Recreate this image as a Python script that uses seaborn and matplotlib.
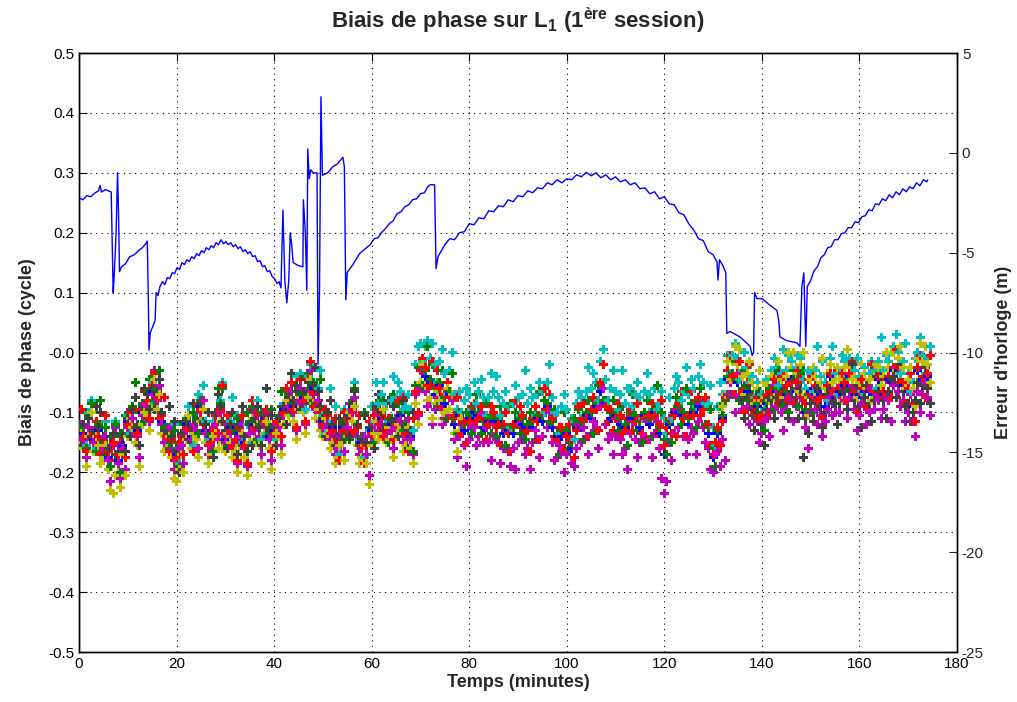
import numpy as np
import pandas as pd
import matplotlib
matplotlib.use('Agg')
import matplotlib.pyplot as plt
from matplotlib.ticker import FormatStrFormatter
import seaborn as sns

# phase bias per satellite (cycle): one value per minute, plus the half-minute samples (_h)
red = [
    -0.125, -0.14, -0.11, -0.135, -0.14, -0.145, -0.165, -0.15, -0.17, -0.14,
    -0.12, -0.095, -0.135, -0.09, -0.08, -0.055, -0.075, -0.105, -0.14, -0.145,
    -0.175, -0.14, -0.125, -0.13, -0.115, -0.095, -0.12, -0.15, -0.105, -0.095,
    -0.135, -0.13, -0.145, -0.125, -0.155, -0.12, -0.125, -0.125, -0.115, -0.13,
    -0.135, -0.11, -0.1, -0.075, -0.095, -0.065, -0.08, -0.045, -0.065, -0.065,
    -0.12, -0.105, -0.13, -0.145, -0.13, -0.11, -0.095, -0.125, -0.155, -0.155,
    -0.135, -0.095, -0.105, -0.13, -0.115, -0.12, -0.1, -0.135, -0.13, -0.065,
    -0.03, -0.025, -0.055, -0.055, -0.06, -0.07, -0.075, -0.105, -0.11, -0.115,
    -0.115, -0.085, -0.11, -0.11, -0.12, -0.1, -0.12, -0.12, -0.135, -0.12,
    -0.12, -0.105, -0.13, -0.11, -0.115, -0.1, -0.095, -0.11, -0.145, -0.125,
    -0.14, -0.145, -0.13, -0.11, -0.11, -0.095, -0.095, -0.05, -0.09, -0.095,
    -0.11, -0.105, -0.13, -0.095, -0.115, -0.11, -0.11, -0.105, -0.105, -0.12,
    -0.155, -0.11, -0.105, -0.085, -0.11, -0.105, -0.105, -0.075, -0.095, -0.12,
    -0.17, -0.125, -0.115, -0.03, -0.04, -0.035, -0.065, -0.05, -0.075, -0.075,
    -0.105, -0.07, -0.065, -0.05, -0.07, -0.055, -0.05, -0.05, -0.045, -0.085,
    -0.07, -0.055, -0.075, -0.075, -0.035, -0.07, -0.06, -0.05, -0.035, -0.065,
    -0.065, -0.06, -0.06, -0.065, -0.04, -0.065, -0.04, -0.025, -0.025, -0.05,
    -0.06, -0.085, -0.025, -0.04, -0.035]
red_h = [
    -0.095, -0.165, -0.145, -0.115, -0.17, -0.105, -0.14, -0.18, -0.15, -0.175,
    -0.1, -0.125, -0.095, -0.065, -0.11, -0.035, -0.11, -0.075, -0.165, -0.18,
    -0.15, -0.17, -0.105, -0.165, -0.085, -0.12, -0.155, -0.13, -0.135, -0.055,
    -0.105, -0.155, -0.18, -0.105, -0.185, -0.08, -0.1, -0.155, -0.095, -0.165,
    -0.115, -0.14, -0.06, -0.05, -0.125, -0.045, -0.115, -0.015, -0.09, -0.1,
    -0.095, -0.135, -0.11, -0.18, -0.1, -0.135, -0.13, -0.105, -0.185, -0.115,
    -0.105, -0.12, -0.14, -0.11, -0.145, -0.08, -0.075, -0.165, -0.11, -0.1,
    -0.01, -0.055, -0.015, -0.03, -0.09, -0.05, -0.11, -0.075, -0.135, -0.15,
    -0.09, -0.115, -0.09, -0.145, -0.09, -0.125, -0.155, -0.1, -0.165, -0.08,
    -0.09, -0.13, -0.165, -0.09, -0.145, -0.06, -0.07, -0.14, -0.125, -0.16,
    -0.12, -0.175, -0.09, -0.085, -0.14, -0.075, -0.13, -0.02, -0.115, -0.13,
    -0.085, -0.135, -0.11, -0.13, -0.085, -0.135, -0.145, -0.085, -0.135, -0.08,
    -0.125, -0.135, -0.14, -0.065, -0.14, -0.065, -0.08, -0.105, -0.075, -0.155,
    -0.15, -0.155, -0.075, -0.005, -0.07, -0.015, -0.1, -0.02, -0.1, -0.11,
    -0.08, -0.1, -0.045, -0.085, -0.04, -0.08, -0.085, -0.03, -0.075, -0.045,
    -0.04, -0.08, -0.11, -0.055, -0.065, -0.03, -0.035, -0.08, -0.015, -0.1,
    -0.045, -0.09, -0.02, -0.04, -0.07, -0.045, -0.075, 0.005, -0.05, -0.085,
    -0.035, -0.115, -0.005, -0.075, -0.005]
blue = [
    -0.135, -0.135, -0.125, -0.145, -0.13, -0.16, -0.175, -0.14, -0.18, -0.155,
    -0.115, -0.11, -0.13, -0.1, -0.085, -0.065, -0.07, -0.115, -0.13, -0.16,
    -0.17, -0.155, -0.12, -0.14, -0.13, -0.09, -0.13, -0.14, -0.12, -0.095,
    -0.145, -0.125, -0.15, -0.135, -0.15, -0.135, -0.12, -0.14, -0.11, -0.14,
    -0.13, -0.125, -0.095, -0.09, -0.09, -0.08, -0.075, -0.06, -0.06, -0.08,
    -0.115, -0.12, -0.125, -0.16, -0.125, -0.125, -0.09, -0.14, -0.15, -0.17,
    -0.13, -0.1, -0.11, -0.135, -0.12, -0.125, -0.105, -0.14, -0.14, -0.065,
    -0.03, -0.04, -0.05, -0.07, -0.055, -0.085, -0.07, -0.12, -0.105, -0.13,
    -0.11, -0.1, -0.105, -0.125, -0.115, -0.115, -0.115, -0.135, -0.13, -0.135,
    -0.115, -0.12, -0.125, -0.125, -0.11, -0.115, -0.09, -0.125, -0.14, -0.14,
    -0.135, -0.16, -0.125, -0.125, -0.105, -0.11, -0.09, -0.065, -0.085, -0.11,
    -0.105, -0.12, -0.125, -0.11, -0.11, -0.125, -0.105, -0.12, -0.1, -0.135,
    -0.17, -0.12, -0.1, -0.1, -0.105, -0.12, -0.1, -0.09, -0.09, -0.135,
    -0.175, -0.135, -0.11, -0.045, -0.035, -0.05, -0.06, -0.065, -0.07, -0.09,
    -0.1, -0.085, -0.06, -0.065, -0.065, -0.07, -0.045, -0.065, -0.04, -0.1,
    -0.065, -0.07, -0.07, -0.09, -0.04, -0.075, -0.065, -0.055, -0.04, -0.07,
    -0.07, -0.065, -0.065, -0.07, -0.045, -0.07, -0.045, -0.03, -0.03, -0.055,
    -0.065, -0.09, -0.03, -0.045, -0.04]
green = [
    -0.12, -0.125, -0.105, -0.135, -0.12, -0.15, -0.16, -0.14, -0.165, -0.135,
    -0.11, -0.09, -0.125, -0.085, -0.065, -0.045, -0.06, -0.1, -0.125, -0.15,
    -0.16, -0.14, -0.11, -0.13, -0.11, -0.08, -0.12, -0.135, -0.1, -0.085,
    -0.13, -0.12, -0.13, -0.125, -0.14, -0.115, -0.115, -0.12, -0.105, -0.125,
    -0.125, -0.105, -0.09, -0.07, -0.085, -0.06, -0.07, -0.035, -0.05, -0.065,
    -0.11, -0.1, -0.12, -0.14, -0.115, -0.11, -0.08, -0.125, -0.14, -0.15,
    -0.125, -0.085, -0.1, -0.12, -0.11, -0.11, -0.1, -0.12, -0.13, -0.055,
    -0.025, -0.03, -0.045, -0.06, -0.05, -0.075, -0.065, -0.11, -0.1, -0.12,
    -0.105, -0.09, -0.1, -0.115, -0.11, -0.105, -0.11, -0.125, -0.125, -0.125,
    -0.11, -0.11, -0.12, -0.115, -0.105, -0.105, -0.085, -0.115, -0.135, -0.13,
    -0.13, -0.15, -0.12, -0.115, -0.1, -0.1, -0.085, -0.055, -0.08, -0.1,
    -0.1, -0.11, -0.12, -0.1, -0.105, -0.115, -0.1, -0.11, -0.095, -0.125,
    -0.145, -0.115, -0.095, -0.09, -0.1, -0.11, -0.095, -0.08, -0.085, -0.125,
    -0.16, -0.13, -0.105, -0.04, -0.035, -0.045, -0.06, -0.055, -0.07, -0.085,
    -0.1, -0.08, -0.06, -0.06, -0.065, -0.065, -0.05, -0.06, -0.04, -0.095, -0.07]
green_h = [
    -0.145, -0.16, -0.085, -0.165, -0.08, -0.125, -0.19, -0.12, -0.2, -0.105,
    -0.14, -0.05, -0.1, -0.115, -0.045, -0.08, -0.03, -0.125, -0.16, -0.13,
    -0.19, -0.12, -0.145, -0.1, -0.135, -0.115, -0.1, -0.165, -0.06, -0.06,
    -0.155, -0.155, -0.11, -0.155, -0.1, -0.09, -0.145, -0.1, -0.14, -0.095,
    -0.155, -0.065, -0.065, -0.1, -0.065, -0.095, -0.04, -0.06, -0.085, -0.045,
    -0.14, -0.08, -0.155, -0.11, -0.14, -0.145, -0.06, -0.155, -0.1, -0.125,
    -0.15, -0.12, -0.08, -0.15, -0.07, -0.085, -0.13, -0.1, -0.165, -0.025,
    -0.055, 0.01, -0.02, -0.09, -0.03, -0.11, -0.035, -0.135, -0.135, -0.1,
    -0.135, -0.07, -0.135, -0.085, -0.135, -0.14, -0.09, -0.155, -0.085, -0.1,
    -0.135, -0.145, -0.1, -0.145, -0.065, -0.08, -0.115, -0.095, -0.17, -0.1,
    -0.16, -0.11, -0.095, -0.145, -0.08, -0.135, -0.055, -0.08, -0.115, -0.08,
    -0.13, -0.09, -0.155, -0.07, -0.13, -0.15, -0.08, -0.14, -0.055, -0.1,
    -0.17, -0.15, -0.075, -0.12, -0.06, -0.085, -0.125, -0.06, -0.12, -0.095,
    -0.19, -0.09, -0.08, -0.07, -0.015, -0.08, -0.03, -0.08, -0.105, -0.065,
    -0.13, -0.06, -0.095, -0.03, -0.09, -0.1, -0.03, -0.09, -0.03, -0.07, -0.1]
gray_a = [
    -0.12, -0.12, -0.11, -0.13, -0.125, -0.14, -0.16, -0.135, -0.165, -0.14,
    -0.11, -0.095, -0.12, -0.09, -0.07, -0.06, -0.065, -0.1, -0.13, -0.14,
    -0.165, -0.135, -0.115, -0.125, -0.115, -0.085, -0.12, -0.14, -0.1, -0.09,
    -0.13, -0.12, -0.135, -0.12, -0.14, -0.12, -0.11, -0.125, -0.1, -0.13,
    -0.12, -0.11, -0.09, -0.075, -0.08, -0.065, -0.065, -0.05, -0.055, -0.065,
    -0.11, -0.1, -0.12, -0.14, -0.12, -0.105, -0.085, -0.12, -0.145, -0.15,
    -0.125, -0.09, -0.1, -0.12, -0.115, -0.11, -0.1, -0.125, -0.13]
gray_a_h = [
    -0.155, -0.1, -0.14, -0.09, -0.1, -0.17, -0.14, -0.17, -0.135, -0.165,
    -0.14, -0.075, -0.155, -0.06, -0.095, -0.095, -0.045, -0.13, -0.09, -0.115,
    -0.2, -0.115, -0.145, -0.085, -0.09, -0.115, -0.1, -0.175, -0.07, -0.115,
    -0.16, -0.1, -0.17, -0.09, -0.165, -0.155, -0.09, -0.155, -0.06, -0.105,
    -0.155, -0.09, -0.12, -0.035, -0.055, -0.095, -0.045, -0.085, -0.025, -0.09,
    -0.14, -0.08, -0.155, -0.11, -0.145, -0.14, -0.065, -0.15, -0.105, -0.125,
    -0.16, -0.07, -0.13, -0.08, -0.09, -0.14, -0.08, -0.16, -0.1]
gray_b = [
    -0.08, -0.075, -0.095, -0.1,
    -0.12, -0.095, -0.08, -0.075, -0.085, -0.08, -0.065, -0.075, -0.06, -0.11,
    -0.085, -0.08, -0.09, -0.1, -0.06, -0.085, -0.085, -0.065, -0.06, -0.08,
    -0.09, -0.075, -0.085, -0.08, -0.065, -0.08, -0.065, -0.04, -0.05, -0.065,
    -0.085, -0.1, -0.05, -0.055, -0.06]
gray_b_h = [
    -0.11, -0.055, -0.13, -0.07,
    -0.155, -0.075, -0.11, -0.035, -0.06, -0.11, -0.045, -0.11, -0.175, -0.135,
    -0.115, -0.06, -0.125, -0.07, -0.085, -0.12, -0.065, -0.095, -0.02, -0.055,
    -0.125, -0.055, -0.115, -0.04, -0.04, -0.11, -0.045, -0.075, -0.02, -0.09,
    -0.115, -0.08, -0.085, -0.025, -0.085]
yellow_a = [
    -0.155, -0.16, -0.14, -0.165, -0.155, -0.175, -0.195, -0.235, -0.2, -0.17,
    -0.14, -0.125, -0.155, -0.12, -0.1, -0.085, -0.095, -0.135, -0.16, -0.175,
    -0.215, -0.17, -0.145, -0.16, -0.145, -0.115, -0.15, -0.17, -0.135, -0.115,
    -0.165, -0.15, -0.165, -0.155, -0.175, -0.15, -0.145, -0.155, -0.135, -0.16,
    -0.155, -0.14, -0.12, -0.105, -0.115, -0.095, -0.1, -0.075, -0.085, -0.095,
    -0.14, -0.135, -0.15, -0.175, -0.15, -0.14, -0.115, -0.155, -0.175, -0.185,
    -0.155, -0.115, -0.135, -0.15, -0.145, -0.14, -0.13, -0.155, -0.16, -0.085,
    -0.05, -0.055, -0.075, -0.085, -0.08, -0.1, -0.095, -0.135, -0.13]
yellow_a_h = [
    -0.135, -0.19, -0.1, -0.14, -0.185, -0.155, -0.23, -0.205, -0.225, -0.205,
    -0.11, -0.15, -0.19, -0.1, -0.13, -0.045, -0.07, -0.165, -0.14, -0.21,
    -0.195, -0.2, -0.105, -0.135, -0.175, -0.095, -0.185, -0.14, -0.16, -0.15,
    -0.135, -0.175, -0.2, -0.135, -0.205, -0.11, -0.12, -0.185, -0.115, -0.195,
    -0.135, -0.17, -0.08, -0.08, -0.145, -0.075, -0.135, -0.045, -0.11, -0.13,
    -0.11, -0.16, -0.185, -0.155, -0.18, -0.1, -0.09, -0.185, -0.155, -0.22,
    -0.135, -0.145, -0.095, -0.125, -0.175, -0.12, -0.165, -0.125, -0.185, -0.12,
    -0.02, -0.08, -0.11, -0.065, -0.11, -0.06, -0.07, -0.165, -0.11]
yellow_b = [
    -0.09, -0.015, -0.015, -0.02, -0.04, -0.035, -0.05, -0.06,
    -0.08, -0.055, -0.04, -0.035, -0.045, -0.04, -0.025, -0.035, -0.02, -0.07,
    -0.045, -0.04, -0.05, -0.06, -0.02, -0.045, -0.045, -0.025, -0.02, -0.04,
    -0.05, -0.035, -0.045, -0.04, -0.025, -0.04, -0.025, 0.0, -0.01, -0.025,
    -0.045, -0.06, -0.01, -0.015, -0.02]
yellow_b_h = [
    -0.07, -0.045, 0.01, 0.005, -0.07, -0.015, -0.085, -0.03,
    -0.05, -0.08, -0.075, -0.015, -0.075, 0.0, 0.0, -0.065, 0.0, -0.105,
    -0.025, -0.07, -0.01, -0.035, -0.05, -0.025, -0.08, 0.005, -0.045, -0.075,
    -0.02, -0.06, -0.08, -0.02, -0.055, 0.0, 0.0, -0.03, 0.01, -0.06,
    -0.025, -0.09, 0.015, 0.01, -0.05]
cyan = [
    -0.12, -0.12, -0.1, -0.13, -0.12, -0.14, -0.16, -0.135, -0.165, -0.135,
    -0.105, -0.09, -0.12, -0.085, -0.065, -0.05, -0.06, -0.1, -0.125, -0.14,
    -0.16, -0.135, -0.11, -0.125, -0.11, -0.08, -0.115, -0.135, -0.1, -0.08,
    -0.13, -0.115, -0.13, -0.12, -0.14, -0.115, -0.11, -0.12, -0.1, -0.125,
    -0.12, -0.105, -0.085, -0.07, -0.08, -0.06, -0.065, -0.04, -0.05, -0.06,
    -0.105, -0.1, -0.115, -0.14, -0.115, -0.105, -0.08, -0.12, -0.14, -0.15,
    -0.09, -0.05, -0.07, -0.085, -0.08, -0.075, -0.065, -0.09, -0.095, -0.02,
    0.015, 0.01, -0.01, -0.02, -0.015, -0.035, -0.03, -0.07, -0.065, -0.08,
    -0.07, -0.05, -0.065, -0.075, -0.075, -0.065, -0.075, -0.085, -0.09, -0.085,
    -0.075, -0.07, -0.085, -0.075, -0.07, -0.065, -0.05, -0.075, -0.1, -0.09,
    -0.095, -0.11, -0.085, -0.075, -0.065, -0.06, -0.05, -0.015, -0.045, -0.06,
    -0.065, -0.07, -0.085, -0.06, -0.07, -0.075, -0.065, -0.07, -0.06, -0.085,
    -0.11, -0.075, -0.06, -0.05, -0.065, -0.07, -0.06, -0.04, -0.05, -0.085,
    -0.125, -0.09, -0.07, -0.005, -0.005, -0.01, -0.03, -0.025, -0.04, -0.05,
    -0.07, -0.045, -0.03, -0.025, -0.035, -0.03, -0.015, -0.025, -0.01, -0.06,
    -0.035, -0.03, -0.04, -0.05, -0.01, -0.035, -0.035, -0.015, -0.01, -0.03,
    -0.04, -0.025, -0.035, -0.03, -0.015, -0.03, -0.015, 0.01, 0.0, -0.015,
    -0.035, -0.05, 0.0, -0.005, -0.01]
cyan_h = [
    -0.145, -0.155, -0.08, -0.16, -0.08, -0.115, -0.19, -0.115, -0.2, -0.105,
    -0.135, -0.05, -0.095, -0.115, -0.045, -0.085, -0.03, -0.125, -0.16, -0.12,
    -0.185, -0.17, -0.09, -0.155, -0.07, -0.055, -0.145, -0.115, -0.135, -0.05,
    -0.16, -0.075, -0.105, -0.15, -0.12, -0.15, -0.08, -0.145, -0.135, -0.105,
    -0.145, -0.14, -0.065, -0.1, -0.04, -0.035, -0.095, -0.02, -0.085, -0.03,
    -0.135, -0.06, -0.09, -0.17, -0.095, -0.14, -0.05, -0.145, -0.175, -0.13,
    -0.115, -0.085, -0.05, -0.115, -0.04, -0.05, -0.095, -0.07, -0.13, 0.01,
    -0.015, 0.02, 0.015, -0.05, 0.005, -0.07, 0.0, -0.095, -0.1, -0.06,
    -0.095, -0.085, -0.045, -0.105, -0.035, -0.04, -0.105, -0.065, -0.125, -0.055,
    -0.105, -0.03, -0.06, -0.105, -0.05, -0.1, -0.02, -0.1, -0.135, -0.07,
    -0.12, -0.145, -0.065, -0.105, -0.025, -0.035, -0.08, 0.005, -0.08, -0.03,
    -0.095, -0.03, -0.06, -0.09, -0.05, -0.11, -0.035, -0.095, -0.095, -0.065,
    -0.135, -0.11, -0.04, -0.08, -0.025, -0.045, -0.09, -0.02, -0.085, -0.055,
    -0.155, -0.05, -0.045, -0.035, 0.015, -0.045, 0.0, -0.05, -0.075, -0.03,
    -0.095, -0.08, -0.01, -0.055, 0.005, -0.005, -0.045, -0.005, -0.045, -0.03,
    -0.065, 0.01, -0.015, -0.08, 0.01, -0.07, -0.005, -0.04, -0.045, -0.01,
    -0.065, -0.06, -0.015, -0.06, 0.025, -0.005, -0.045, 0.03, -0.035, 0.015,
    -0.065, -0.01, 0.025, -0.035, 0.01]
magenta = [
    -0.14, -0.145, -0.125, -0.15, -0.14, -0.16, -0.18, -0.155, -0.185, -0.16,
    -0.125, -0.11, -0.14, -0.105, -0.085, -0.07, -0.08, -0.12, -0.145, -0.16,
    -0.18, -0.155, -0.13, -0.145, -0.13, -0.1, -0.135, -0.155, -0.12, -0.1,
    -0.15, -0.135, -0.15, -0.14, -0.16, -0.135, -0.13, -0.14, -0.12, -0.145,
    -0.14, -0.125, -0.105, -0.09, -0.1, -0.08, -0.085, -0.06, -0.07, -0.08,
    -0.125, -0.12, -0.135, -0.16, -0.135, -0.125, -0.1, -0.14, -0.16, -0.17,
    -0.14, -0.1, -0.12, -0.135, -0.13, -0.125, -0.115, -0.14, -0.145, -0.07,
    -0.06, -0.065, -0.085, -0.095, -0.09, -0.11, -0.105, -0.145, -0.14, -0.155,
    -0.145, -0.125, -0.14, -0.15, -0.15, -0.14, -0.15, -0.16, -0.165, -0.16,
    -0.15, -0.145, -0.16, -0.15, -0.145, -0.14, -0.125, -0.15, -0.175, -0.165,
    -0.17, -0.185, -0.16, -0.15, -0.14, -0.135, -0.125, -0.09, -0.12, -0.135,
    -0.14, -0.145, -0.16, -0.135, -0.145, -0.15, -0.14, -0.145, -0.135, -0.16,
    -0.235, -0.15, -0.135, -0.125, -0.14, -0.145, -0.135, -0.115, -0.125, -0.16,
    -0.2, -0.165, -0.145, -0.07, -0.07, -0.075, -0.095, -0.09, -0.105, -0.115,
    -0.135, -0.11, -0.095, -0.09, -0.1, -0.095, -0.08, -0.09, -0.075, -0.125,
    -0.1, -0.095, -0.105, -0.115, -0.075, -0.1, -0.1, -0.08, -0.075, -0.095,
    -0.105, -0.09, -0.1, -0.095, -0.08, -0.095, -0.08, -0.055, -0.065, -0.08,
    -0.1, -0.115, -0.065, -0.07, -0.075]
magenta_h = [
    -0.12, -0.175, -0.085, -0.125, -0.17, -0.14, -0.215, -0.125, -0.21, -0.195,
    -0.095, -0.135, -0.175, -0.085, -0.115, -0.03, -0.055, -0.15, -0.125, -0.195,
    -0.16, -0.185, -0.09, -0.12, -0.16, -0.08, -0.17, -0.125, -0.145, -0.135,
    -0.12, -0.16, -0.185, -0.12, -0.19, -0.095, -0.105, -0.17, -0.1, -0.18,
    -0.12, -0.155, -0.065, -0.065, -0.13, -0.06, -0.12, -0.03, -0.095, -0.115,
    -0.095, -0.145, -0.17, -0.14, -0.165, -0.085, -0.075, -0.17, -0.14, -0.205,
    -0.12, -0.13, -0.08, -0.11, -0.16, -0.105, -0.15, -0.11, -0.17, -0.105,
    -0.03, -0.09, -0.12, -0.075, -0.12, -0.07, -0.08, -0.175, -0.12, -0.19,
    -0.125, -0.155, -0.1, -0.125, -0.18, -0.12, -0.185, -0.13, -0.19, -0.195,
    -0.12, -0.17, -0.195, -0.13, -0.175, -0.1, -0.1, -0.18, -0.155, -0.2,
    -0.15, -0.19, -0.12, -0.125, -0.17, -0.115, -0.16, -0.06, -0.145, -0.17,
    -0.11, -0.17, -0.195, -0.115, -0.175, -0.11, -0.115, -0.175, -0.115, -0.21,
    -0.215, -0.18, -0.095, -0.1, -0.17, -0.125, -0.17, -0.085, -0.15, -0.195,
    -0.17, -0.19, -0.18, -0.05, -0.1, -0.035, -0.07, -0.12, -0.085, -0.15,
    -0.115, -0.14, -0.055, -0.065, -0.13, -0.075, -0.115, -0.06, -0.1, -0.16,
    -0.07, -0.12, -0.14, -0.095, -0.105, -0.06, -0.075, -0.11, -0.055, -0.13,
    -0.085, -0.12, -0.06, -0.07, -0.11, -0.075, -0.115, -0.025, -0.09, -0.115,
    -0.07, -0.14, -0.1, -0.05, -0.105]

# receiver clock error: (minutes, metres)
clock_pts = [
    (0.0, -2.26), (0.8, -2.35), (1.6, -2.14), (2.4, -2.2), (3.2, -2.02), (4.0, -1.9),
    (4.3, -1.63), (4.6, -1.96), (5.4, -1.84), (6.0, -1.9), (6.6, -1.96), (6.8, -4.51),
    (7.0, -7.0), (7.2, -6.22), (7.6, -4.0), (7.9, -1.0), (8.1, -3.01), (8.3, -5.95),
    (8.7, -5.71), (9.5, -5.56), (10.4, -5.2), (11.3, -5.11), (12.2, -4.9), (13.0, -4.75),
    (13.7, -4.54), (14.0, -4.42), (14.2, -7.21), (14.35, -9.88), (14.6, -9.01),
    (15.2, -8.65), (15.6, -8.38), (15.8, -7.0), (16.2, -7.15), (16.6, -6.7),
    (17.1, -6.45), (17.6, -6.6), (18.1, -6.25), (18.6, -6.3), (19.1, -6.0), (19.6, -6.05),
    (20.1, -5.75), (20.6, -5.85), (21.1, -5.5), (21.6, -5.6), (22.1, -5.35), (22.6, -5.45),
    (23.1, -5.2), (23.6, -5.3), (24.1, -5.05), (24.6, -5.15), (25.1, -4.9), (25.6, -5.0),
    (26.1, -4.75), (26.6, -4.85), (27.1, -4.65), (27.6, -4.75), (28.1, -4.5), (28.6, -4.6),
    (29.1, -4.35), (29.6, -4.55), (30.1, -4.45), (30.6, -4.6), (31.1, -4.5), (31.6, -4.7),
    (32.1, -4.6), (32.6, -4.8), (33.1, -4.7), (33.6, -4.95), (34.1, -4.85), (34.6, -5.05),
    (35.1, -4.95), (35.6, -5.2), (36.1, -5.15), (36.6, -5.45), (37.1, -5.4), (37.6, -5.7),
    (38.1, -5.65), (38.6, -5.95), (39.1, -5.9), (39.6, -6.2), (40.1, -6.3), (40.6, -6.55),
    (41.0, -6.45), (41.4, -6.76), (41.8, -2.86), (42.2, -6.4), (42.6, -7.51), (43.0, -6.4),
    (43.3, -4.0), (43.6, -4.6), (43.9, -5.5), (45.0, -5.65), (45.9, -5.71), (46.0, -2.35),
    (46.4, -4.0), (46.7, -6.88), (46.9, 0.2), (47.2, -1.3), (47.5, -0.85), (48.0, -1.0),
    (48.8, -1.0), (49.0, -10.6), (49.3, -7.0), (49.6, 2.81), (49.9, -1.12), (51.0, -1.0),
    (52.0, -0.7), (53.0, -0.55), (54.1, -0.22), (54.4, -0.7), (54.7, -7.36), (55.0, -5.98),
    (56.0, -5.65), (57.6, -5.02), (59.7, -4.6), (60.5, -4.3), (61.3, -4.25), (62.0, -4.0),
    (62.8, -3.8), (63.6, -3.55), (64.4, -3.4), (65.2, -3.05), (66.0, -2.95), (66.8, -2.7),
    (67.6, -2.6), (68.4, -2.35), (69.2, -2.3), (70.0, -2.05), (70.8, -2.0), (71.5, -1.7),
    (72.0, -1.6), (72.9, -1.6), (73.2, -5.8), (73.6, -5.2), (75.0, -4.6), (76.0, -4.3),
    (77.0, -4.35), (78.0, -4.0), (79.0, -3.95), (80.0, -3.55), (81.0, -3.6), (82.0, -3.25),
    (83.0, -3.3), (84.0, -2.9), (85.0, -2.95), (86.0, -2.65), (87.0, -2.7), (88.0, -2.35),
    (89.0, -2.45), (90.0, -2.14), (91.0, -2.2), (92.0, -1.9), (93.0, -2.0), (94.0, -1.75),
    (95.0, -1.8), (96.0, -1.5), (97.0, -1.6), (98.0, -1.35), (99.0, -1.5), (100.0, -1.3),
    (101.0, -1.35), (102.0, -1.1), (103.0, -1.2), (104.0, -0.98), (105.0, -1.15),
    (106.0, -1.0), (107.0, -1.25), (108.0, -1.1), (109.0, -1.35), (110.0, -1.2),
    (111.0, -1.45), (112.0, -1.35), (113.0, -1.6), (114.0, -1.5), (115.0, -1.8),
    (116.0, -1.75), (117.0, -2.05), (118.0, -1.95), (119.0, -2.3), (120.0, -2.2),
    (121.0, -2.55), (122.0, -2.6), (123.0, -3.0), (124.0, -3.1), (125.0, -3.55),
    (126.0, -3.85), (127.0, -4.3), (128.0, -4.4), (129.0, -4.95), (130.0, -5.1),
    (130.8, -5.47), (131.0, -6.37), (131.3, -5.35), (132.0, -5.65), (132.6, -6.01),
    (132.8, -9.04), (133.5, -8.95), (135.5, -9.22), (137.0, -9.55), (137.6, -9.7),
    (138.0, -10.15), (138.3, -10.0), (138.5, -7.0), (139.0, -7.3), (140.0, -7.3),
    (141.5, -7.6), (143.1, -7.9), (143.5, -8.5), (143.7, -9.22), (145.0, -9.4),
    (147.2, -9.52), (147.8, -9.7), (148.2, -6.7), (148.6, -6.01), (149.0, -9.7),
    (149.3, -6.7), (150.0, -6.4), (150.7, -5.9), (151.4, -5.7), (152.1, -5.25),
    (152.8, -5.1), (153.5, -4.75), (154.2, -4.7), (154.9, -4.35), (155.6, -4.35),
    (156.3, -4.05), (157.0, -4.0), (157.7, -3.75), (158.4, -3.75), (159.1, -3.45),
    (159.8, -3.5), (160.5, -3.2), (161.2, -3.15), (161.9, -2.85), (162.6, -2.9),
    (163.3, -2.55), (164.0, -2.6), (164.7, -2.3), (165.4, -2.4), (166.1, -2.1),
    (166.8, -2.25), (167.5, -1.95), (168.2, -2.1), (168.9, -1.8), (169.6, -1.95),
    (170.3, -1.7), (171.0, -1.8), (171.7, -1.5), (172.4, -1.65), (173.1, -1.35),
    (173.8, -1.45), (174.0, -1.36)]

minutes = np.arange(175)
half = minutes + 0.5
series = [
    ('blue', minutes, blue),
    ('magenta', minutes, magenta), ('magenta', half, magenta_h),
    ('cyan', minutes, cyan), ('cyan', half, cyan_h),
    ('green', minutes[:151], green), ('green', half[:151], green_h),
    ('red', minutes, red), ('red', half, red_h),
    ('yellow', minutes[:79], yellow_a), ('yellow', half[:79], yellow_a_h),
    ('yellow', minutes[132:], yellow_b), ('yellow', half[132:], yellow_b_h),
    ('gray', minutes[:69], gray_a), ('gray', half[:69], gray_a_h),
    ('gray', minutes[136:], gray_b), ('gray', half[136:], gray_b_h),
]
palette = {'blue': '#0000FF', 'magenta': '#BF00BF', 'cyan': '#00BFBF',
           'green': '#008000', 'red': '#FF0000', 'yellow': '#BFBF00',
           'gray': '#404040'}

df = pd.concat([pd.DataFrame({'t': t, 'bias': v, 'sat': name})
                for name, t, v in series], ignore_index=True)
# interleave minute and half-minute samples so draw order follows time
df = df.sort_values('t', kind='stable').reset_index(drop=True)
clock = pd.DataFrame(clock_pts, columns=['t', 'err'])

sns.set_style('white')
plt.rcParams['font.family'] = ['Liberation Sans', 'DejaVu Sans']
plt.rcParams['axes.unicode_minus'] = False
plt.rcParams['mathtext.fontset'] = 'custom'
plt.rcParams['mathtext.rm'] = 'Liberation Sans:bold'
plt.rcParams['mathtext.it'] = 'Liberation Sans:bold'
plt.rcParams['mathtext.bf'] = 'Liberation Sans:bold'

fig = plt.figure(figsize=(10.17, 7.02), dpi=100)
ax = fig.add_axes([0.0777, 0.0712, 0.8633, 0.8533])
ax2 = ax.twinx()

sns.scatterplot(data=df, x='t', y='bias', hue='sat', palette=palette, ax=ax,
                marker='P', s=42, linewidth=0, legend=False, zorder=3)
sns.lineplot(data=clock, x='t', y='err', ax=ax2, color='#0000FF', lw=1.0,
             sort=False, estimator=None)

ax.set_xlim(0, 180)
ax.set_ylim(-0.5, 0.5)
ax.set_xticks(range(0, 181, 20))
ax.set_yticks(np.arange(-0.5, 0.51, 0.1))
ax.yaxis.set_major_formatter(FormatStrFormatter('%.1f'))
ax.grid(True, color='black', linestyle=(0, (1, 4)), linewidth=0.8)
ax.tick_params(direction='in', length=6, labelsize=11, top=True, right=False,
               colors='black')
ax.set_xlabel('Temps (minutes)', fontsize=13, fontweight='bold', labelpad=2)
ax.set_ylabel('Biais de phase (cycle)', fontsize=13, fontweight='bold', labelpad=9)
ax.set_title(r'Biais de phase sur L$_1$ (1$^{ère}$ session)', fontsize=16,
             fontweight='bold', pad=18)

ax2.set_ylim(-25, 5)
ax2.set_yticks(range(-25, 6, 5))
ax2.tick_params(direction='in', length=6, labelsize=11)
ax2.set_ylabel("Erreur d'horloge (m)", fontsize=13, fontweight='bold', labelpad=8)
ax2.set_xlabel('')

for a in (ax, ax2):
    for s in a.spines.values():
        s.set_color('black')
        s.set_linewidth(1.0)
ax.set_zorder(1)
ax.patch.set_visible(False)

fig.savefig('out.png', dpi=100)
